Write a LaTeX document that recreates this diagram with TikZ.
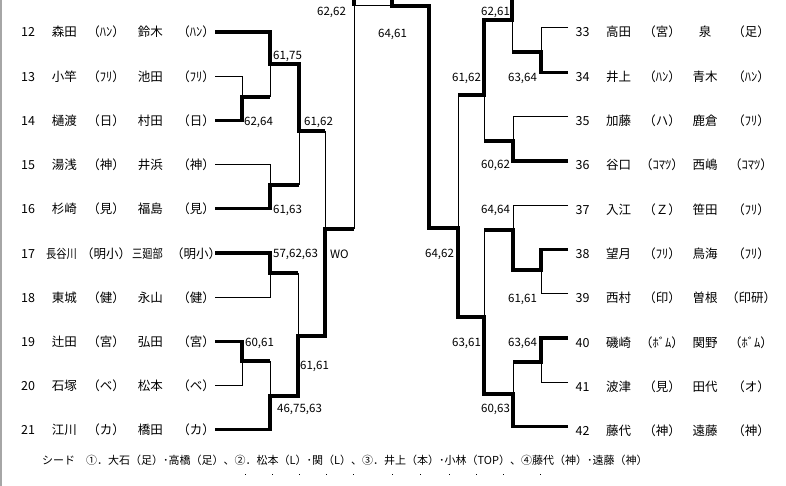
\documentclass[tikz,border=0pt]{standalone}
\usepackage{fontspec}
\usepackage{graphicx}
\usepackage{tikz}
\newfontfamily\jpFont{Noto Sans CJK JP}
\tikzstyle{bracket} = [x = 1pt, y = -1pt]
\tikzstyle{winLine} = [color=black, line width = 3.3pt]
\tikzstyle{loseLine} = [color=black, line width = 1pt]
\tikzstyle{entryText} = [font=\jpFont\fontsize{12.5}{14}\selectfont, inner sep = 0, anchor = base]
\tikzstyle{nameText} = [entryText, anchor = base east]
\tikzstyle{scoreText} = [font=\jpFont\fontsize{11.5}{13}\selectfont, inner sep = 0, anchor = base west]
\tikzstyle{seedText} = [font=\jpFont\fontsize{11}{13}\selectfont, inner sep = 0, anchor = base west]
\newcommand{\textDrop}{5}
\newcommand{\leftEntry}[5]{
  \pgfmathsetmacro{\rowY}{32 + 44.2 * (#1 - 12)}
  \node [entryText] (no#1) at (28, \rowY + \textDrop) {#1};
  \node [nameText] (nameA#1) at (77, \rowY + \textDrop) {#2};
  \node [entryText] (clubA#1) at (106, \rowY + \textDrop) {#3};
  \node [nameText] (nameB#1) at (163, \rowY + \textDrop) {#4};
  \node [entryText] (clubB#1) at (196, \rowY + \textDrop) {#5};
  \coordinate (seat#1) at (215, \rowY);
}
\newcommand{\rightEntry}[5]{
  \pgfmathsetmacro{\rowY}{32 + 44.3 * (#1 - 33)}
  \node [entryText] (no#1) at (582.5, \rowY + \textDrop) {#1};
  \node [entryText] (nameA#1) at (618.5, \rowY + \textDrop) {#2};
  \node [entryText] (clubA#1) at (662, \rowY + \textDrop) {#3};
  \node [entryText] (nameB#1) at (705, \rowY + \textDrop) {#4};
  \node [entryText] (clubB#1) at (751, \rowY + \textDrop) {#5};
  \coordinate (seat#1) at (568, \rowY - 4);
}
\newcommand{\squeeze}[1]{\scalebox{0.82}[1]{#1}}

\begin{document}
\begin{tikzpicture}[bracket]
  \useasboundingbox (0, 0) rectangle (786, 486);
  \draw [color=gray!70, line width = 1.5pt] (0.75, 0) -- (0.75, 486);

  \foreach \no/\nameA/\clubA/\nameB/\clubB in {
      12/森田/（ﾊﾝ）/鈴木/（ﾊﾝ）, 13/小竿/（ﾌﾘ）/池田/（ﾌﾘ）,
      14/樋渡/（日）/村田/（日）, 15/湯浅/（神）/井浜/（神）,
      16/杉崎/（見）/福島/（見）, 17/{\squeeze{長谷川}}/（明小）/{\squeeze{三廻部}}/（明小）,
      18/東城/（健）/永山/（健）, 19/辻田/（宮）/弘田/（宮）,
      20/石塚/（ベ）/松本/（ベ）, 21/江川/（カ）/橋田/（カ）} {
    \leftEntry{\no}{\nameA}{\clubA}{\nameB}{\clubB}
  }
  \foreach \no/\nameA/\clubA/\nameB/\clubB in {
      33/高田/（宮）/泉/（足）, 34/井上/（ﾊﾝ）/青木/（ﾊﾝ）,
      35/加藤/（ハ）/鹿倉/（ﾌﾘ）, 36/谷口/（ｺﾏﾂ）/西嶋/（ｺﾏﾂ）,
      37/入江/（Ｚ）/笹田/（ﾌﾘ）, 38/望月/（ﾌﾘ）/鳥海/（ﾌﾘ）,
      39/西村/（印）/曽根/（印研）, 40/磯崎/（ﾎﾞﾑ）/関野/（ﾎﾞﾑ）,
      41/波津/（見）/田代/（オ）, 42/藤代/（神）/遠藤/（神）} {
    \rightEntry{\no}{\nameA}{\clubA}{\nameB}{\clubB}
  }

  % junctions
  \coordinate (cut) at (0, 0);
  \coordinate (jA1) at (242, 97);
  \coordinate (jA) at (270, 64);
  \coordinate (jB) at (270, 185);
  \coordinate (jAB) at (299, 131);
  \coordinate (jC) at (270, 273);
  \coordinate (jD1) at (242, 361);
  \coordinate (jD) at (270, 396);
  \coordinate (jCD) at (298, 336);
  \coordinate (jL) at (325, 229);
  \coordinate (jF) at (354, 6);
  \coordinate (jFinal) at (392, 6);
  \coordinate (jE1) at (541, 52);
  \coordinate (jE) at (512, 20);
  \coordinate (jG) at (513, 141);
  \coordinate (jEG) at (484, 95);
  \coordinate (jH1) at (541, 270);
  \coordinate (jH) at (513, 230);
  \coordinate (jK1) at (541, 362);
  \coordinate (jK) at (513, 394);
  \coordinate (jHK) at (484, 317);
  \coordinate (jR) at (458, 228);
  \coordinate (jRtop) at (429, 6);

  % left half
  \draw [loseLine] (seat13) -| (jA1);
  \draw [loseLine] (jA1 -| jA) -- (jA);
  \draw [loseLine] (seat15) -| (jB);
  \draw [loseLine] (jB -| jAB) -- (jAB);
  \draw [loseLine] (jAB -| jL) -- (jL);
  \draw [loseLine] (seat18) -| (jC);
  \draw [loseLine] (jC -| jCD) -- (jCD);
  \draw [loseLine] (seat20) -| (jD1);
  \draw [loseLine] (jD1 -| jD) -- (jD);
  \draw [loseLine] (jL -| jF) -- (jF) -- (jFinal);
  \draw [winLine] (seat12) -| (jA) -| (jAB) -- (jAB -| jL);
  \draw [winLine] (seat14) -| (jA1) -- (jA1 -| jA);
  \draw [winLine] (seat16) -| (jB) -- (jB -| jAB);
  \draw [winLine] (seat17) -| (jC) -- (jC -| jCD);
  \draw [winLine] (seat19) -| (jD1) -- (jD1 -| jD);
  \draw [winLine] (seat21) -| (jD) -| (jCD) -| (jL) -- (jL -| jF);
  \draw [winLine] (jF |- cut) -- (jF);

  % right half
  \draw [loseLine] (seat33) -| (jE1);
  \draw [loseLine] (jE1 -| jE) -- (jE);
  \draw [loseLine] (seat35) -| (jG);
  \draw [loseLine] (jG -| jEG) -- (jEG);
  \draw [loseLine] (jEG -| jR) -- (jR);
  \draw [loseLine] (seat37) -| (jH);
  \draw [loseLine] (seat39) -| (jH1);
  \draw [loseLine] (jH -| jHK) -- (jHK);
  \draw [loseLine] (seat41) -| (jK1);
  \draw [loseLine] (jK1 -| jK) -- (jK);
  \draw [winLine] (seat34) -| (jE1) -- (jE1 -| jE);
  \draw [winLine] (jE |- cut) -- (jE) -| (jEG) -- (jEG -| jR);
  \draw [winLine] (seat36) -| (jG) -- (jG -| jEG);
  \draw [winLine] (seat38) -| (jH1) -| (jH) -- (jH -| jHK);
  \draw [winLine] (seat40) -| (jK1) -- (jK1 -| jK);
  \draw [winLine] (seat42) -| (jK) -| (jHK) -| (jR) -| (jRtop) -- (jFinal) -- (jFinal |- cut);

  % scores
  \foreach \sx/\sy/\st [count=\si] in {317/11/{62,62}, 378/33/{64,61}, 481/11/{62,61},
      273/55/{61,75}, 244/121/{62,64}, 304/121/{61,62}, 273/209/{61,63},
      273/253/{57,62,63}, 330/254/WO, 245/342/{60,61}, 300/365/{61,61},
      277/408/{46,75,63}, 452/77/{61,62}, 508/77/{63,64}, 481/164/{60,62},
      481/209/{64,64}, 425/253/{64,62}, 508/298/{61,61}, 452/342/{63,61},
      508/342/{63,64}, 481/408/{60,63}} {
    \node [scoreText] (score\si) at (\sx, \sy + 4.2) {\st};
  }

  \node [seedText] (seedLine) at (42, 464.5) {シード　①．大石（足）･高橋（足）、②．松本（L）･関（L）、③．井上（本）･小林（TOP）、④藤代（神）･遠藤（神）};
  \foreach \dotX in {245, 272, 299, 326, 353, 392, 420, 449, 476, 503, 540} {
    \fill (\dotX, 474) rectangle +(1.3, 1.3);
  }
\end{tikzpicture}
\end{document}
